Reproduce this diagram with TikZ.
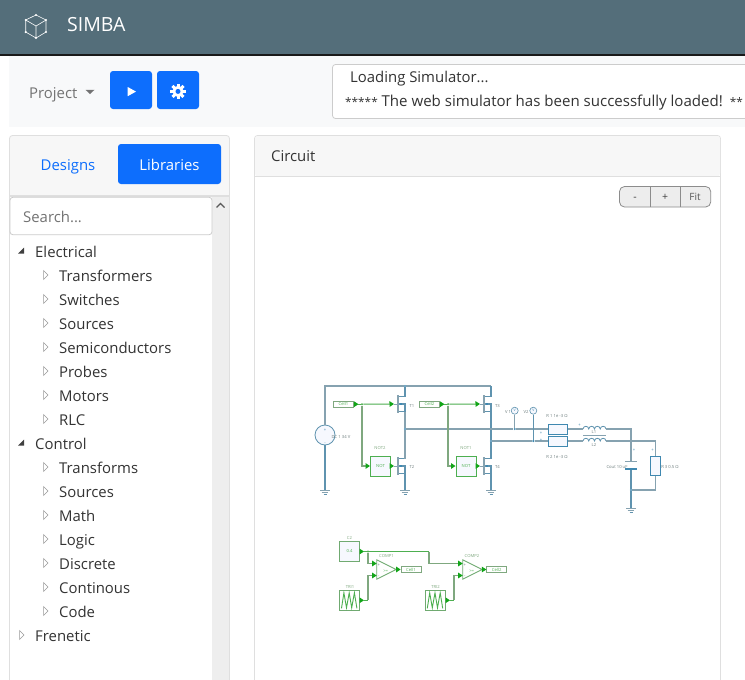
\documentclass[tikz,border=0pt]{standalone}
\usepackage{fontspec}
\setmainfont{Open Sans}
\usetikzlibrary{arrows.meta}
\definecolor{hdr}{HTML}{546E7A}
\definecolor{tool}{HTML}{F8F9FA}
\definecolor{bsblue}{HTML}{0D6EFD}
\definecolor{edge}{HTML}{DFDFDF}
\definecolor{head}{HTML}{F7F7F7}
\definecolor{wire}{HTML}{5F93AF}
\definecolor{wirea}{HTML}{86A2B0}
\definecolor{part}{HTML}{3F88B0}
\definecolor{gr}{HTML}{4DAF50}
\definecolor{grb}{HTML}{12A518}
\definecolor{grm}{HTML}{7FA87F}
\definecolor{pale}{HTML}{F6F8FE}
\definecolor{lab}{HTML}{6E7E7E}
\tikzset{
  txt/.style={inner sep=0pt,anchor=mid west,yshift=-3.5pt,font=\fontsize{14.9}{18}\selectfont,text=#1},
  txt/.default={black!80},
  ctxt/.style={inner sep=0pt,anchor=mid,yshift=-3.5pt,font=\fontsize{14.9}{18}\selectfont,text=#1},
  tiny/.style={inner sep=0pt,anchor=mid,font=\fontsize{4.2}{5}\selectfont,text=#1},
  tiny/.default={lab},
  w/.style={draw=wire,line width=1.1pt},
  wg/.style={draw=wirea,line width=1.1pt},
  g/.style={draw=gr,line width=1pt},
  gm/.style={draw=grm,line width=1.1pt},
  ga/.style={draw=gr,line width=1pt,-{Triangle[length=4.5pt,width=5.5pt,fill=grb,color=grb]}},
  gma/.style={draw=grm,line width=1.1pt,-{Triangle[length=4.5pt,width=5.5pt,fill=grb,color=grb]}},
  gbox/.style={rectangle,draw=gr,line width=.9pt,fill=pale,inner sep=0pt,minimum width=#1,minimum height=20pt,font=\fontsize{4.2}{5}\selectfont,text=gr},
  gbox/.default={20pt},
  trib/.style={rectangle,draw=grm!70!gr,line width=1pt,fill=white,inner sep=0pt,minimum width=19.5pt,minimum height=19.5pt},
  lbox/.style={rectangle,draw=grm,line width=.7pt,fill=white,inner sep=0pt,minimum width=20pt,minimum height=6.3pt,font=\fontsize{4.2}{5}\selectfont,text=gr},
  rbox/.style={rectangle,draw=part,line width=1pt,fill=pale,inner sep=0pt},
  jn/.style={circle,fill=part,inner sep=0pt,minimum size=2.4pt},
  jg/.style={circle,fill=gr,inner sep=0pt,minimum size=2.4pt},
  mos/.pic={
    \coordinate (-d) at (0,-7);
    \coordinate (-s) at (0,8);
    \coordinate (-g) at (-11,0);
    \draw[wirea,line width=2pt] (-7,-9) -- (-7,9);
    \draw[wirea,line width=1pt] (-11,0) -- (-8,0);
    \draw[wire,line width=1.1pt] (-6,-7.5) -- (0,-7.5) (-6,0) -- (0,0) -- (0,7.5) -- (-6,7.5);
    \fill[part] (-5,-1.2) rectangle (-3.4,1.2);
  },
  gnd/.pic={
    \coordinate (-t) at (0,0);
    \draw[wirea,line width=.9pt] (-5,0) -- (5,0) (-3.3,2) -- (3.3,2);
    \draw[wire,line width=.9pt] (-1.5,4) -- (1.5,4);
  },
  cmp/.pic={
    \coordinate (-a) at (0,-6);
    \coordinate (-b) at (0,6);
    \coordinate (-o) at (19.5,0);
    \draw[grm!70!gr,line width=.9pt,fill=white] (0,-9.7) -- (19.5,0) -- (0,9.7) -- cycle;
    \node[tiny=gr] (-ge) at (9,0) {>=};
    \node[tiny=lab] (-p) at (2.2,-5.5) {+};
    \node[tiny=lab] (-m) at (2.2,5.5) {-};
  },
  ind/.pic={
    \coordinate (-l) at (0,0);
    \coordinate (-r) at (23,0);
    \draw[wire,line width=.8pt] (0,0)
      .. controls +(.2,-3.6) and +(-.2,-3.6) .. ++(5.75,0)
      .. controls +(.2,-3.6) and +(-.2,-3.6) .. ++(5.75,0)
      .. controls +(.2,-3.6) and +(-.2,-3.6) .. ++(5.75,0)
      .. controls +(.2,-3.6) and +(-.2,-3.6) .. ++(5.75,0);
  },
  saw/.pic={
    \draw[gr,line width=.9pt] (-8,8) -- (-5.6,-7.5) -- (-3,7.5) -- (-.3,-7.5) -- (2.2,7.5) -- (4.9,-7.5) -- (7.4,8);
  }
}
\begin{document}
\begin{tikzpicture}[x=1pt,y=-1pt]
\useasboundingbox (0,0) rectangle (745,680);
\fill[white] (0,0) rectangle (745,680);
% header
\fill[hdr] (0,0) rectangle (745,53.5);
\fill[black!90] (0,53.5) rectangle (745,55.5);
\coordinate (cT) at (36,15); \coordinate (cUR) at (46,20); \coordinate (cLR) at (46,32);
\coordinate (cB) at (36,38); \coordinate (cLL) at (25.7,32); \coordinate (cUL) at (25.7,20);
\coordinate (cC) at (36,26);
\draw[white,line width=.6pt,line join=round] (cT) -- (cUR) -- (cLR) -- (cB) -- (cLL) -- (cUL) -- cycle
  (cUL) -- (cC) -- (cUR) (cC) -- (cB);
\foreach \c in {cT,cUR,cLR,cB,cLL,cUL} \fill[white] (\c) circle (1.2);
\node[txt=white,font=\fontsize{19.5}{22}\selectfont,yshift=-1pt] (simba) at (67,24.5) {SIMBA};
% toolbar
\fill[tool] (9,55.5) rectangle (745,127);
\node[txt=black!55] (project) at (29,92.5) {Project};
\fill[black!55] (85.5,89.8) -- (94.5,89.8) -- (90,94) -- cycle;
\node[rectangle,rounded corners=3pt,fill=bsblue,minimum width=42pt,minimum height=38pt,inner sep=0pt] (play) at (131,90) {};
\node[rectangle,rounded corners=3pt,fill=bsblue,minimum width=42pt,minimum height=38pt,inner sep=0pt] (gear) at (178,90) {};
\fill[white] (127.7,87) -- (136,91.6) -- (127.7,96.2) -- cycle;
\fill[white] (178,91.4) circle (5.6);
\foreach \a in {0,45,...,315} \fill[white,shift={(178,91.4)},rotate=\a] (-1.5,-7.8) rectangle (1.5,-4);
\fill[bsblue] (178,91.4) circle (2.5);
\draw[black!20,rounded corners=3pt,fill=white,line width=.8pt] (332.5,64.5) rectangle (760,118.5);
\node[txt] (load) at (350,76) {Loading Simulator...};
\node[txt,font=\fontsize{15.05}{18}\selectfont] (msg) at (345,100) {{\fontsize{11.8}{14}\selectfont *****} The web simulator has been successfully loaded!\hspace{7pt}{\fontsize{11.8}{14}\selectfont **}};
% left panel
\draw[edge,fill=head,line width=.8pt,rounded corners=3pt] (9.5,135.5) -- (229.5,135.5) -- (229.5,700) -- (9.5,700) -- cycle;
\fill[white] (10,196.5) rectangle (212,680);
\fill[black!6.5] (212,197) rectangle (229,680);
\draw[edge,line width=1.2pt] (10,196) -- (229,196);
\node[ctxt=bsblue] (designs) at (68,164) {Designs};
\node[rectangle,rounded corners=3pt,fill=bsblue,minimum width=103pt,minimum height=40pt,inner sep=0pt] (libs) at (169.5,164) {};
\node[ctxt=white] (libt) at (169.5,164) {Libraries};
\node[rectangle,rounded corners=3pt,draw=black!20,fill=white,line width=.8pt,minimum width=202pt,minimum height=37.5pt,inner sep=0pt] (search) at (111,216) {};
\node[txt=black!55] (searchtxt) at (23,216.5) {Search...};
\draw[black!65,line width=1.2pt] (216.5,207.5) -- (220.5,203.5) -- (224.5,207.5);
% tree
\foreach \i/\y/\t in {2/275/Transformers,3/299/Switches,4/323/Sources,5/347/Semiconductors,6/371/Probes,7/395/Motors,8/419/RLC,
  10/467/Transforms,11/491/Sources,12/515/Math,13/539/Logic,14/563/Discrete,15/587/Continous,16/611/Code}{
  \node[txt] (tree\i) at (59,\y) {\t};
  \draw[black!40,line width=.5pt,fill=white] (43.5,\y-4.5) -- (48,\y) -- (43.5,\y+4.5) -- cycle;
}
\foreach \i/\y/\t in {1/251/Electrical,9/443/Control}{
  \node[txt] (tree\i) at (35,\y) {\t};
  \fill[black!75] (24,\y-3.5) -- (24,\y+2.5) -- (18,\y+2.5) -- cycle;
}
\node[txt] (tree17) at (35,635) {Frenetic};
\draw[black!40,line width=.5pt,fill=white] (19.5,630.5) -- (24,635) -- (19.5,639.5) -- cycle;
% circuit panel
\draw[edge,fill=white,line width=.8pt,rounded corners=3pt] (254.5,135.5) -- (720.5,135.5) -- (720.5,700) -- (254.5,700) -- cycle;
\fill[head,rounded corners=3pt] (255,136) -- (720,136) -- (720,176.5) -- (255,176.5) -- cycle;
\draw[edge,line width=.8pt] (255,176.5) -- (720,176.5);
\node[txt] (circ) at (271,155.5) {Circuit};
\draw[black!45,fill=black!7,line width=.8pt,rounded corners=5pt] (619.5,186.5) rectangle (710.7,207);
\draw[black!45,line width=1pt] (650,186.5) -- (650,207) (680,186.5) -- (680,207);
\node[tiny=black!75,font=\fontsize{10.5}{12}\selectfont,yshift=-1pt] (minus) at (635,197) {-};
\node[tiny=black!75,font=\fontsize{10.5}{12}\selectfont,yshift=-1pt] (plus) at (665,197) {+};
\node[tiny=black!65,font=\fontsize{10}{12}\selectfont,yshift=-1pt] (fit) at (695,197) {Fit};

% ---- power stage
\pic (T1) at (405,404) {mos};
\pic (T2) at (405,466) {mos};
\pic (T3) at (491,404) {mos};
\pic (T4) at (491,466) {mos};
\pic (G1) at (325,490) {gnd};
\pic (G2) at (405,490) {gnd};
\pic (G3) at (491,490) {gnd};
\pic (G4) at (631,508) {gnd};
\node[circle,draw=wire,fill=pale,line width=.8pt,minimum size=20pt,inner sep=0pt] (vs) at (325,435) {};
\node[tiny=part] (vsp) at (325,428.5) {+};
\node[tiny=part] (vsm) at (325,442) {-};
\node[tiny] (vsl) at (341,435.5) {DC 1 34 V};
\coordinate (rtl) at (325,386); \coordinate (rtr) at (491,386);
\node[jn] (j1) at (405,386) {};
\node[jn] (j2) at (405,429) {};
\node[jn] (j3) at (491,441) {};
\draw[wg] (vs.north) -- (rtl) -- (j1) -- (rtr);
\draw[w] (vs.south) -- (G1-t);
\draw[w] (j1) -- (T1-d);
\draw[wg] (T1-s) -- (j2) -- (T2-d);
\draw[w] (T2-s) -- (G2-t);
\draw[w] (rtr) -- (T3-d);
\draw[w] (T3-s) -- (j3) -- (T4-d);
\draw[w] (T4-s) -- (G3-t);
% output stage
\node[rbox,minimum width=19pt,minimum height=10pt] (R1) at (558,429) {};
\node[rbox,minimum width=19pt,minimum height=10pt] (R2) at (558,441) {};
\node[rbox,minimum width=10pt,minimum height=19pt] (R3) at (655.7,465.5) {};
\node[circle,draw=wire,fill=pale,line width=.6pt,minimum size=7pt,inner sep=0pt,font=\fontsize{3.5}{4}\selectfont,text=part] (V1) at (514.7,410.7) {V};
\node[circle,draw=wire,fill=pale,line width=.6pt,minimum size=7pt,inner sep=0pt,font=\fontsize{3.5}{4}\selectfont,text=part] (V2) at (533.3,410.7) {V};
\node[jn] (j4) at (514.7,429) {};
\node[jn] (j5) at (533.3,441) {};
\node[jn] (j6) at (631,441) {};
\node[jn] (j7) at (631,490) {};
\draw[wg] (j2) -- (j4) -- (R1.west);
\draw[wg] (j3) -- (j5) -- (R2.west);
\draw[wg] (V1.south) -- (j4);
\draw[w] (V2.south) -- (j5);
\pic (L1) at (583,429) {ind};
\pic (L2) at (583,441) {ind};
\draw[wirea,line width=1pt] (583,435) -- (606,435);
\coordinate (c1) at (631,429);
\coordinate (c2) at (655.7,441);
\coordinate (c3) at (655.7,490);
\coordinate (capt) at (631,461.7);
\coordinate (capb) at (631,469);
\draw[wg] (R1.east) -- (L1-l);
\draw[wg] (R2.east) -- (L2-l);
\draw[wg] (L1-r) -- (c1) -- (capt);
\draw[wg] (L2-r) -- (j6) -- (c2) -- (R3.north);
\draw[wg] (R3.south) -- (c3) -- (j7);
\draw[w] (capb) -- (j7) -- (G4-t);
\draw[wirea,line width=1.1pt] (625,461.7) -- (637,461.7);
\draw[part,line width=1.1pt] (625,469) -- (637,469);
\node[tiny] (lV1) at (508,410.7) {V 1};
\node[tiny] (lV2) at (526,410.7) {V2};
\node[tiny] (lR1) at (557,414.5) {R 1 1e -3 Ω};
\node[tiny] (lR2) at (557,455.5) {R 2 1e -3 Ω};
\node[tiny] (lL1) at (594,431.3) {L1};
\node[tiny] (lL2) at (594,443.5) {L2};
\node[tiny] (lC) at (617,465.5) {Cout 10 uF};
\node[tiny] (lR3) at (670,465.5) {R 3 0.5 Ω};
\node[tiny=part] (p1) at (541,432) {+};
\node[tiny=part] (p2) at (541,438.5) {+};
\node[tiny=part] (p3) at (579.5,424) {+};
\node[tiny=part] (p4) at (634,449) {+};
\node[tiny=part] (p5) at (652.5,449) {+};
\node[tiny] (lT1) at (412,404.5) {T1};
\node[tiny] (lT2) at (412,466) {T2};
\node[tiny] (lT3) at (497.5,404.5) {T3};
\node[tiny] (lT4) at (497.5,466) {T4};
% gate drive
\node[lbox] (cell1) at (343.5,404.2) {Cell1};
\node[lbox] (cell2) at (429.5,404.2) {Cell2};
\node[gbox] (not2) at (380.5,466) {NOT};
\node[gbox] (not1) at (466,466) {NOT};
\node[tiny=grm] (lN2) at (380,446.5) {NOT2};
\node[tiny=grm] (lN1) at (466,446.5) {NOT1};
\node[jg] (j8) at (362,404.2) {};
\node[jg] (j9) at (448,404.2) {};
\draw[ga] (cell1.east) -- (358.5,404.2);
\draw[ga] (cell2.east) -- (444.5,404.2);
\draw[g] (358,404.2) -- (j8);
\draw[g] (444,404.2) -- (j9);
\draw[ga] (j8) -- (T1-g);
\draw[ga] (j9) -- (T3-g);
\draw[gma] (j8) |- (not2.west);
\draw[gma] (j9) |- (not1.west);
\draw[ga] (not2.east) -- (T2-g);
\draw[ga] (not1.east) -- (T4-g);
% ---- control
\node[rectangle,draw=grm!70!gr,line width=1pt,fill=pale,inner sep=0pt,minimum size=19.5pt,font=\fontsize{4.2}{5}\selectfont,text=gr] (C2) at (349.5,551.5) {0.4};
\node[trib] (TRI1) at (349.5,600.3) {};
\node[trib] (TRI2) at (435.3,600.3) {};
\pic at (349.5,600.3) {saw};
\pic at (435.3,600.3) {saw};
\pic (CP1) at (376.7,569.5) {cmp};
\pic (CP2) at (462.7,569.5) {cmp};
\node[lbox] (o1) at (411,569.5) {Cell1};
\node[lbox] (o2) at (496.7,569.5) {Cell2};
\node[tiny=grm] (lC2) at (349.5,536.5) {C2};
\node[tiny=grm] (lTR1) at (350,585.5) {TRI1};
\node[tiny=grm] (lTR2) at (435.5,585.5) {TRI2};
\node[tiny=grm] (lCP1) at (386.5,554.7) {COMP1};
\node[tiny=grm] (lCP2) at (472,554.7) {COMP2};
\node[jg] (j10) at (368,551.5) {};
\coordinate (bend) at (429,551.5);
\coordinate (t1c) at (368,600.3);
\coordinate (t2c) at (454,600.3);
\draw[ga] (C2.east) -- (364,551.5);
\draw[g] (364,551.5) -- (j10) -- (bend);
\draw[gma] (j10) |- (CP1-a);
\draw[gma] (bend) |- (CP2-a);
\draw[ga] (TRI1.east) -- (364,600.3);
\draw[ga] (TRI2.east) -- (450,600.3);
\draw[g] (364,600.3) -- (t1c);
\draw[g] (450,600.3) -- (t2c);
\draw[gma] (t1c) |- (CP1-b);
\draw[gma] (t2c) |- (CP2-b);
\draw[ga] (CP1-o) -- (o1.west);
\draw[ga] (CP2-o) -- (o2.west);
\end{tikzpicture}
\end{document}
